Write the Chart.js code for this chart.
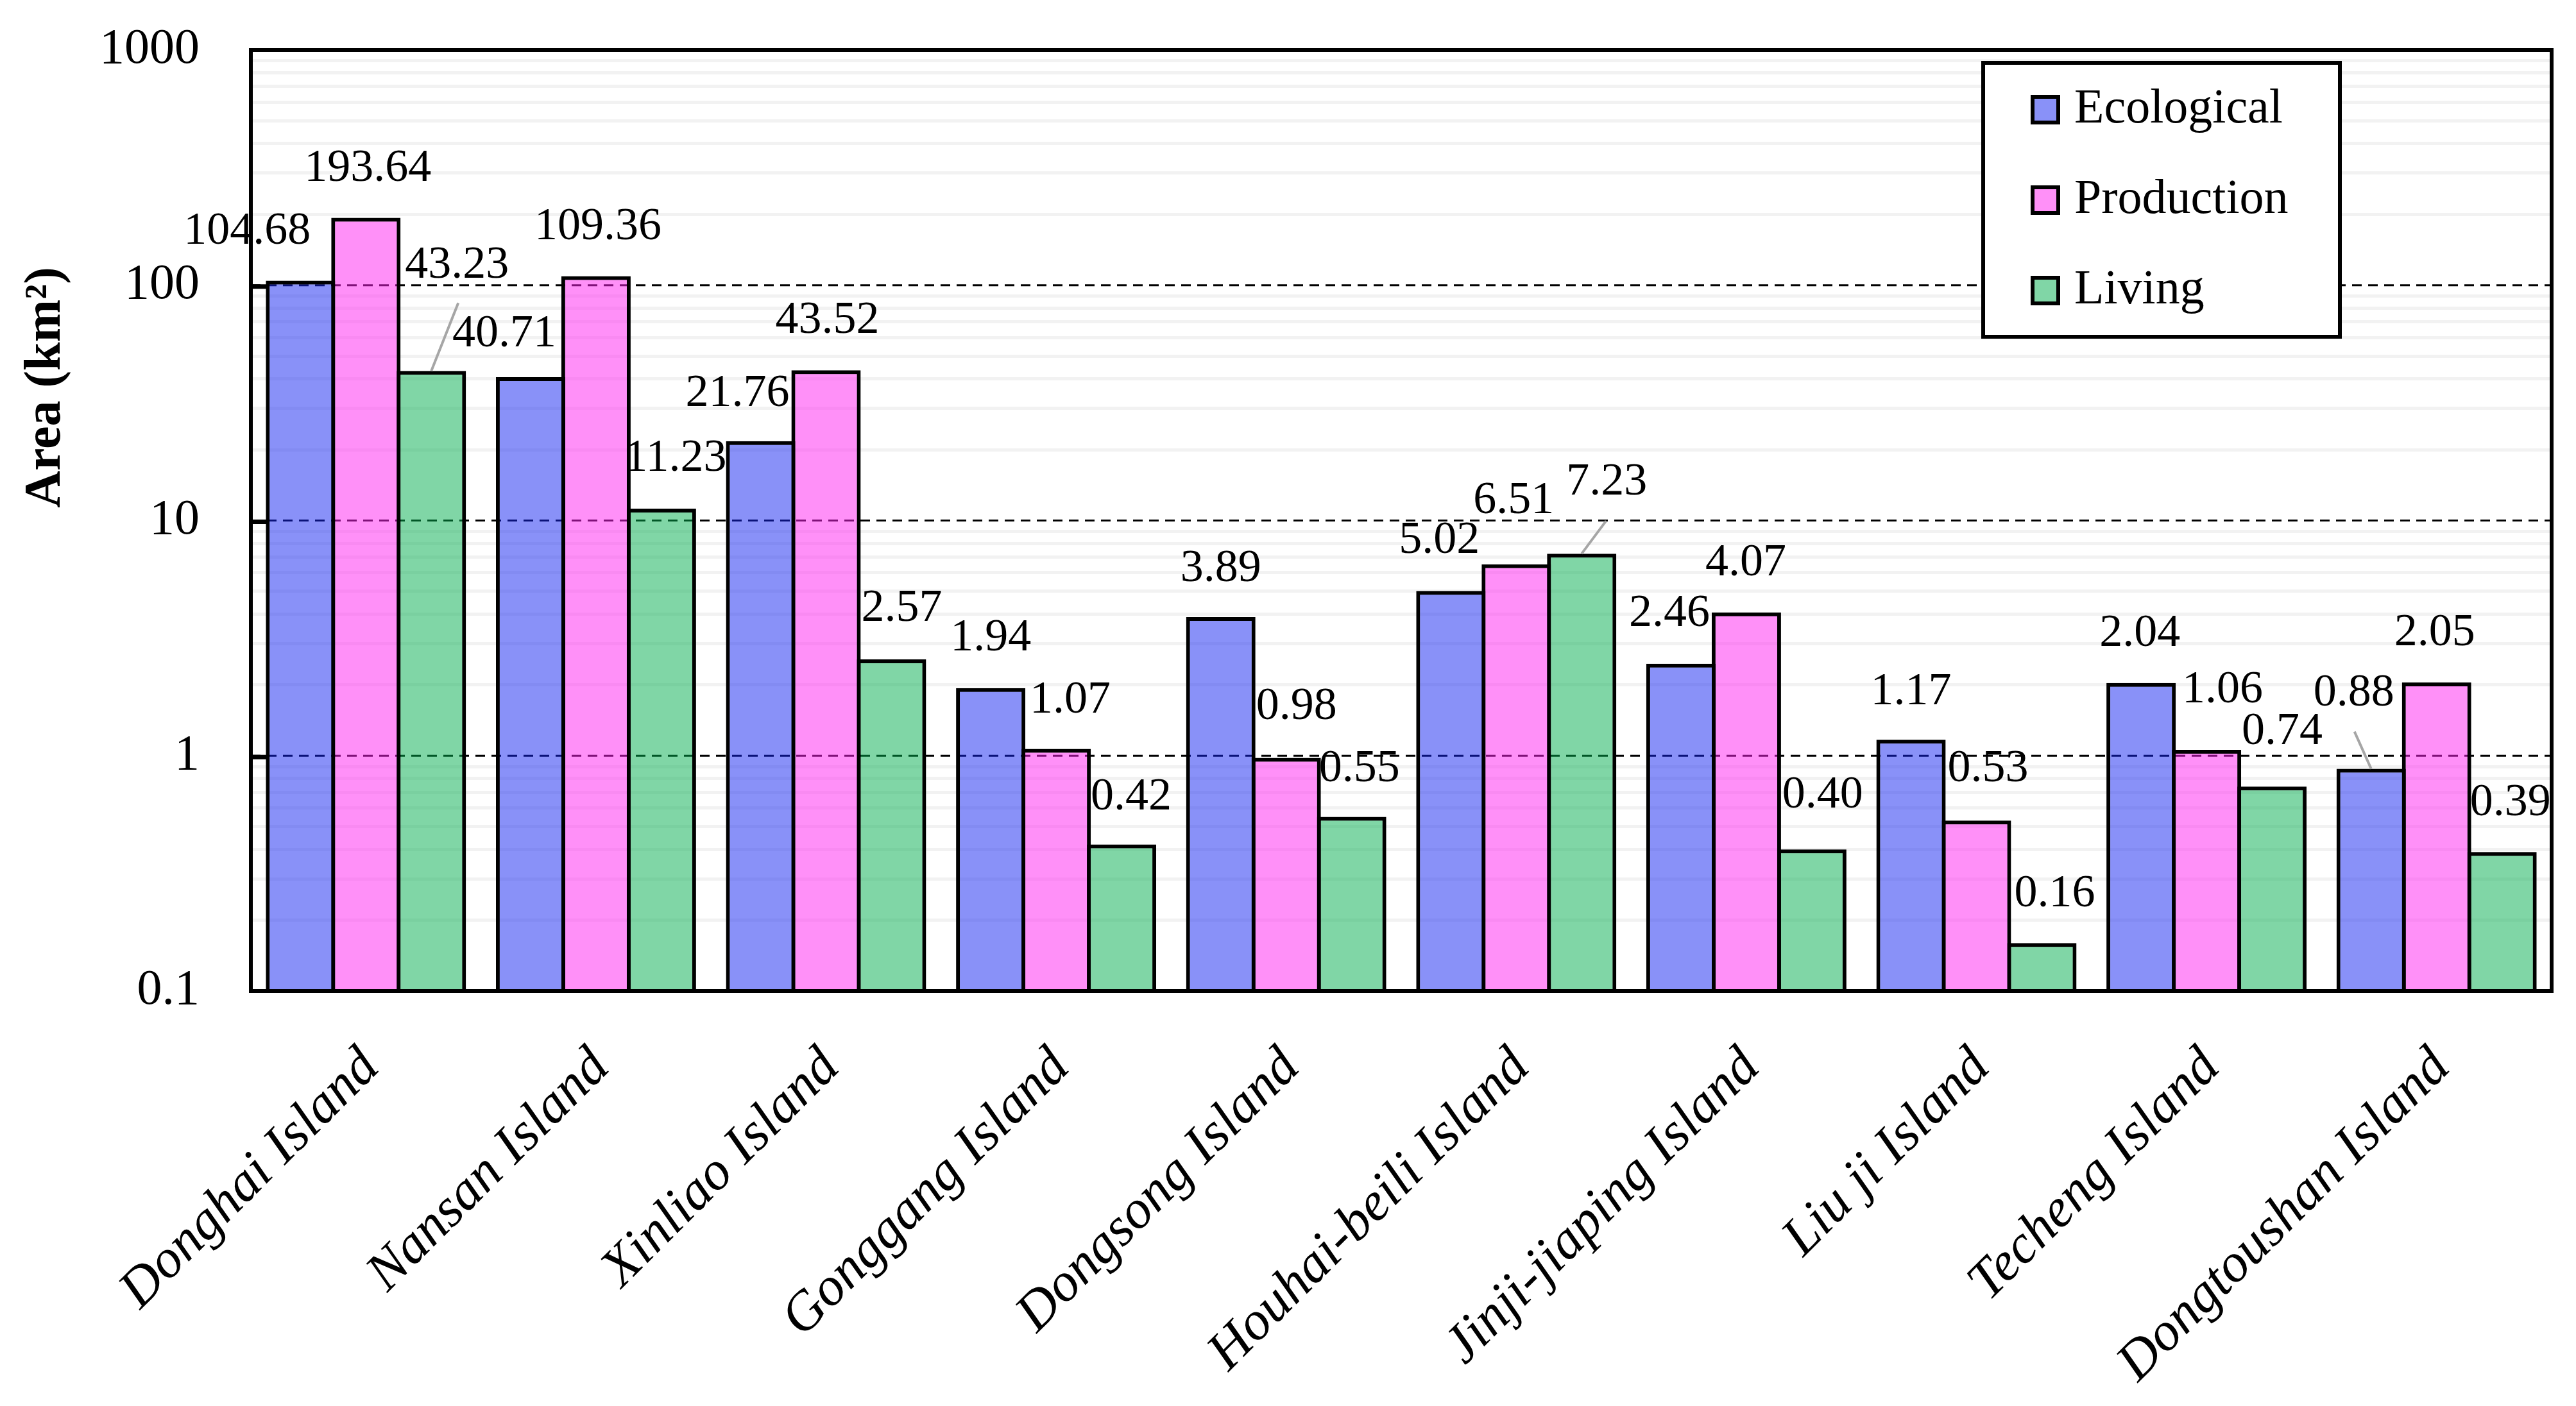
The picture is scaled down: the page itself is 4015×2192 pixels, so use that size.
<!DOCTYPE html>
<html>
<head>
<meta charset="utf-8">
<title>Island areas</title>
<script src="https://cdn.jsdelivr.net/npm/chart.js@4.4.0/dist/chart.umd.min.js"></script>
<style>
    html, body { margin: 0; padding: 0; background: #ffffff; }
    #wrap { width: 4015px; height: 2192px; }
</style>
</head>
<body>
<div id="wrap"><canvas id="areaChart" width="4015" height="2192"></canvas></div>
<script>
const islands = ['Donghai Island', 'Nansan Island', 'Xinliao Island', 'Gonggang Island', 'Dongsong Island',
    'Houhai-beili Island', 'Jinji-jiaping Island', 'Liu ji Island', 'Techeng Island', 'Dongtoushan Island'];
const ecological = [104.68, 40.71, 21.76, 1.94, 3.89, 5.02, 2.46, 1.17, 2.04, 0.88];
const production = [193.64, 109.36, 43.52, 1.07, 0.98, 6.51, 4.07, 0.53, 1.06, 2.05];
const living = [43.23, 11.23, 2.57, 0.42, 0.55, 7.23, 0.40, 0.16, 0.74, 0.39];
const yTicks = [0.1, 1, 10, 100, 1000];

// where each value label sits, in px from the top centre of its bar
const labelShift = [
    [[-83, -76], [-41, -67], [-36, -74], [0, -78], [0, -75], [-18, -78], [-18, -78], [0, -74], [-2, -77], [-27, -118]],
    [[3, -76], [3, -76], [2, -77], [22, -75], [16, -79], [-4, -99], [-1, -77], [18, -80], [25, -93], [-3, -77]],
    [[40, -164], [22, -78], [16, -79], [15, -73], [12, -74], [39, -111], [17, -84], [20, -76], [16, -85], [13, -76]]
];
// grey leader lines: [dataset, index, dx, dy]
const leaders = [[2, 0, 42, -106], [2, 5, 38, -51], [0, 9, -26, -58]];

const colors = ['rgba(20,35,242,0.5)', 'rgba(255,33,241,0.5)', 'rgba(1,173,77,0.5)'];
const serif = '"Liberation Serif", "Times New Roman", serif';

function isMajor(v) {
    return yTicks.some(t => Math.abs(t - v) < t * 1e-9);
}

// gridline values: 1..9 in every decade of the axis
const gridValues = [];
for (let n = -1; n < 3; n++) {
    for (let k = 1; k < 10; k++) gridValues.push(k * Math.pow(10, n));
}
gridValues.push(1000);

function noPadding(scale) {
    scale.paddingTop = 0;
    scale.paddingBottom = 0;
    scale.paddingLeft = 0;
    scale.paddingRight = 0;
}

const decorations = {
    id: 'decorations',
    beforeDatasetsDraw(chart) {
        const { ctx, chartArea } = chart;
        const y = chart.scales.y;
        ctx.save();
        ctx.strokeStyle = '#000';
        ctx.lineWidth = 3;
        ctx.setLineDash([15, 10]);
        [1, 10, 100].forEach(v => {
            const py = y.getPixelForValue(v);
            ctx.beginPath();
            ctx.moveTo(chartArea.left, py);
            ctx.lineTo(chartArea.right, py);
            ctx.stroke();
        });
        ctx.restore();
    },
    afterDatasetsDraw(chart) {
        const { ctx, chartArea } = chart;
        const y = chart.scales.y;
        ctx.save();

        // leader lines
        ctx.strokeStyle = '#a6a6a6';
        ctx.lineWidth = 4;
        leaders.forEach(([d, i, dx, dy]) => {
            const bar = chart.getDatasetMeta(d).data[i];
            ctx.beginPath();
            ctx.moveTo(bar.x, bar.y);
            ctx.lineTo(bar.x + dx, bar.y + dy);
            ctx.stroke();
        });

        // value labels
        ctx.fillStyle = '#000';
        ctx.font = '72px ' + serif;
        ctx.textAlign = 'center';
        ctx.textBaseline = 'middle';
        chart.data.datasets.forEach((ds, d) => {
            chart.getDatasetMeta(d).data.forEach((bar, i) => {
                const [dx, dy] = labelShift[d][i];
                ctx.fillText(ds.data[i].toFixed(2), bar.x + dx, bar.y + dy);
            });
        });

        // frame and inner ticks
        ctx.strokeStyle = '#000';
        ctx.lineWidth = 6;
        ctx.strokeRect(chartArea.left, chartArea.top, chartArea.right - chartArea.left, chartArea.bottom - chartArea.top);
        ctx.lineWidth = 7;
        [1, 10, 100].forEach(v => {
            const py = y.getPixelForValue(v) + 2;
            ctx.beginPath();
            ctx.moveTo(chartArea.left, py);
            ctx.lineTo(chartArea.left + 25, py);
            ctx.stroke();
        });

        // legend
        const lx = chartArea.left + 2700, ly = chartArea.top + 20;
        ctx.fillStyle = '#fff';
        ctx.fillRect(lx, ly, 556, 427);
        ctx.lineWidth = 6;
        ctx.strokeRect(lx, ly, 556, 427);
        ctx.font = '76px ' + serif;
        ctx.textAlign = 'left';
        chart.data.datasets.forEach((ds, d) => {
            const cy = ly + 73 + d * 141;
            ctx.fillStyle = '#000';
            ctx.fillRect(lx + 74, cy - 23, 46, 46);
            ctx.fillStyle = '#fff';
            ctx.fillRect(lx + 80, cy - 17, 34, 34);
            ctx.fillStyle = ds.backgroundColor;
            ctx.fillRect(lx + 80, cy - 17, 34, 34);
            ctx.fillStyle = '#000';
            ctx.fillText(ds.label, lx + 142, cy);
        });

        // y axis title
        ctx.translate(72, chartArea.top + 526);
        ctx.rotate(-Math.PI / 2);
        ctx.font = 'bold 80px ' + serif;
        ctx.textAlign = 'center';
        ctx.fillText('Area (km\u00b2)', 0, 0);
        ctx.restore();
    }
};

document.addEventListener('DOMContentLoaded', () => {
    const ctx = document.getElementById('areaChart').getContext('2d');

    const areaChart = new Chart(ctx, {
        type: 'bar',
        data: {
            labels: islands,
            datasets: [
                { label: 'Ecological', data: ecological, backgroundColor: colors[0] },
                { label: 'Production', data: production, backgroundColor: colors[1] },
                { label: 'Living', data: living, backgroundColor: colors[2] }
            ]
        },
        options: {
            responsive: false,
            devicePixelRatio: 1,
            animation: false,
            events: [],
            layout: { padding: { top: 78, right: 38, left: 0, bottom: 0 } },
            datasets: {
                bar: {
                    borderColor: '#000',
                    borderWidth: 6,
                    borderSkipped: 'start',
                    categoryPercentage: 0.853,
                    barPercentage: 1.06
                }
            },
            plugins: {
                legend: { display: false },
                tooltip: { enabled: false }
            },
            scales: {
                x: {
                    grid: { display: false, drawTicks: false },
                    border: { display: false },
                    ticks: {
                        autoSkip: false,
                        minRotation: 45,
                        maxRotation: 45,
                        padding: 70,
                        labelOffset: 8,
                        color: '#000',
                        font: { family: serif, size: 85, style: 'italic' }
                    },
                    afterFit: scale => { scale.height = 647; noPadding(scale); }
                },
                y: {
                    type: 'logarithmic',
                    min: 0.1,
                    max: 1000,
                    afterBuildTicks: scale => {
                        scale.ticks = gridValues.map(v => ({ value: v }));
                    },
                    grid: {
                        drawTicks: false,
                        tickLength: 0,
                        lineWidth: 5,
                        color: c => (c.tick && isMajor(c.tick.value)) ? 'rgba(0,0,0,0)' : '#f2f2f2'
                    },
                    border: { display: false },
                    ticks: {
                        autoSkip: false,
                        padding: 80,
                        color: '#000',
                        font: { family: serif, size: 78 },
                        callback: v => isMajor(v) ? String(v) : ''
                    },
                    afterFit: scale => { scale.width = 391; noPadding(scale); }
                }
            }
        },
        plugins: [decorations]
    });
});
</script>
</body>
</html>
